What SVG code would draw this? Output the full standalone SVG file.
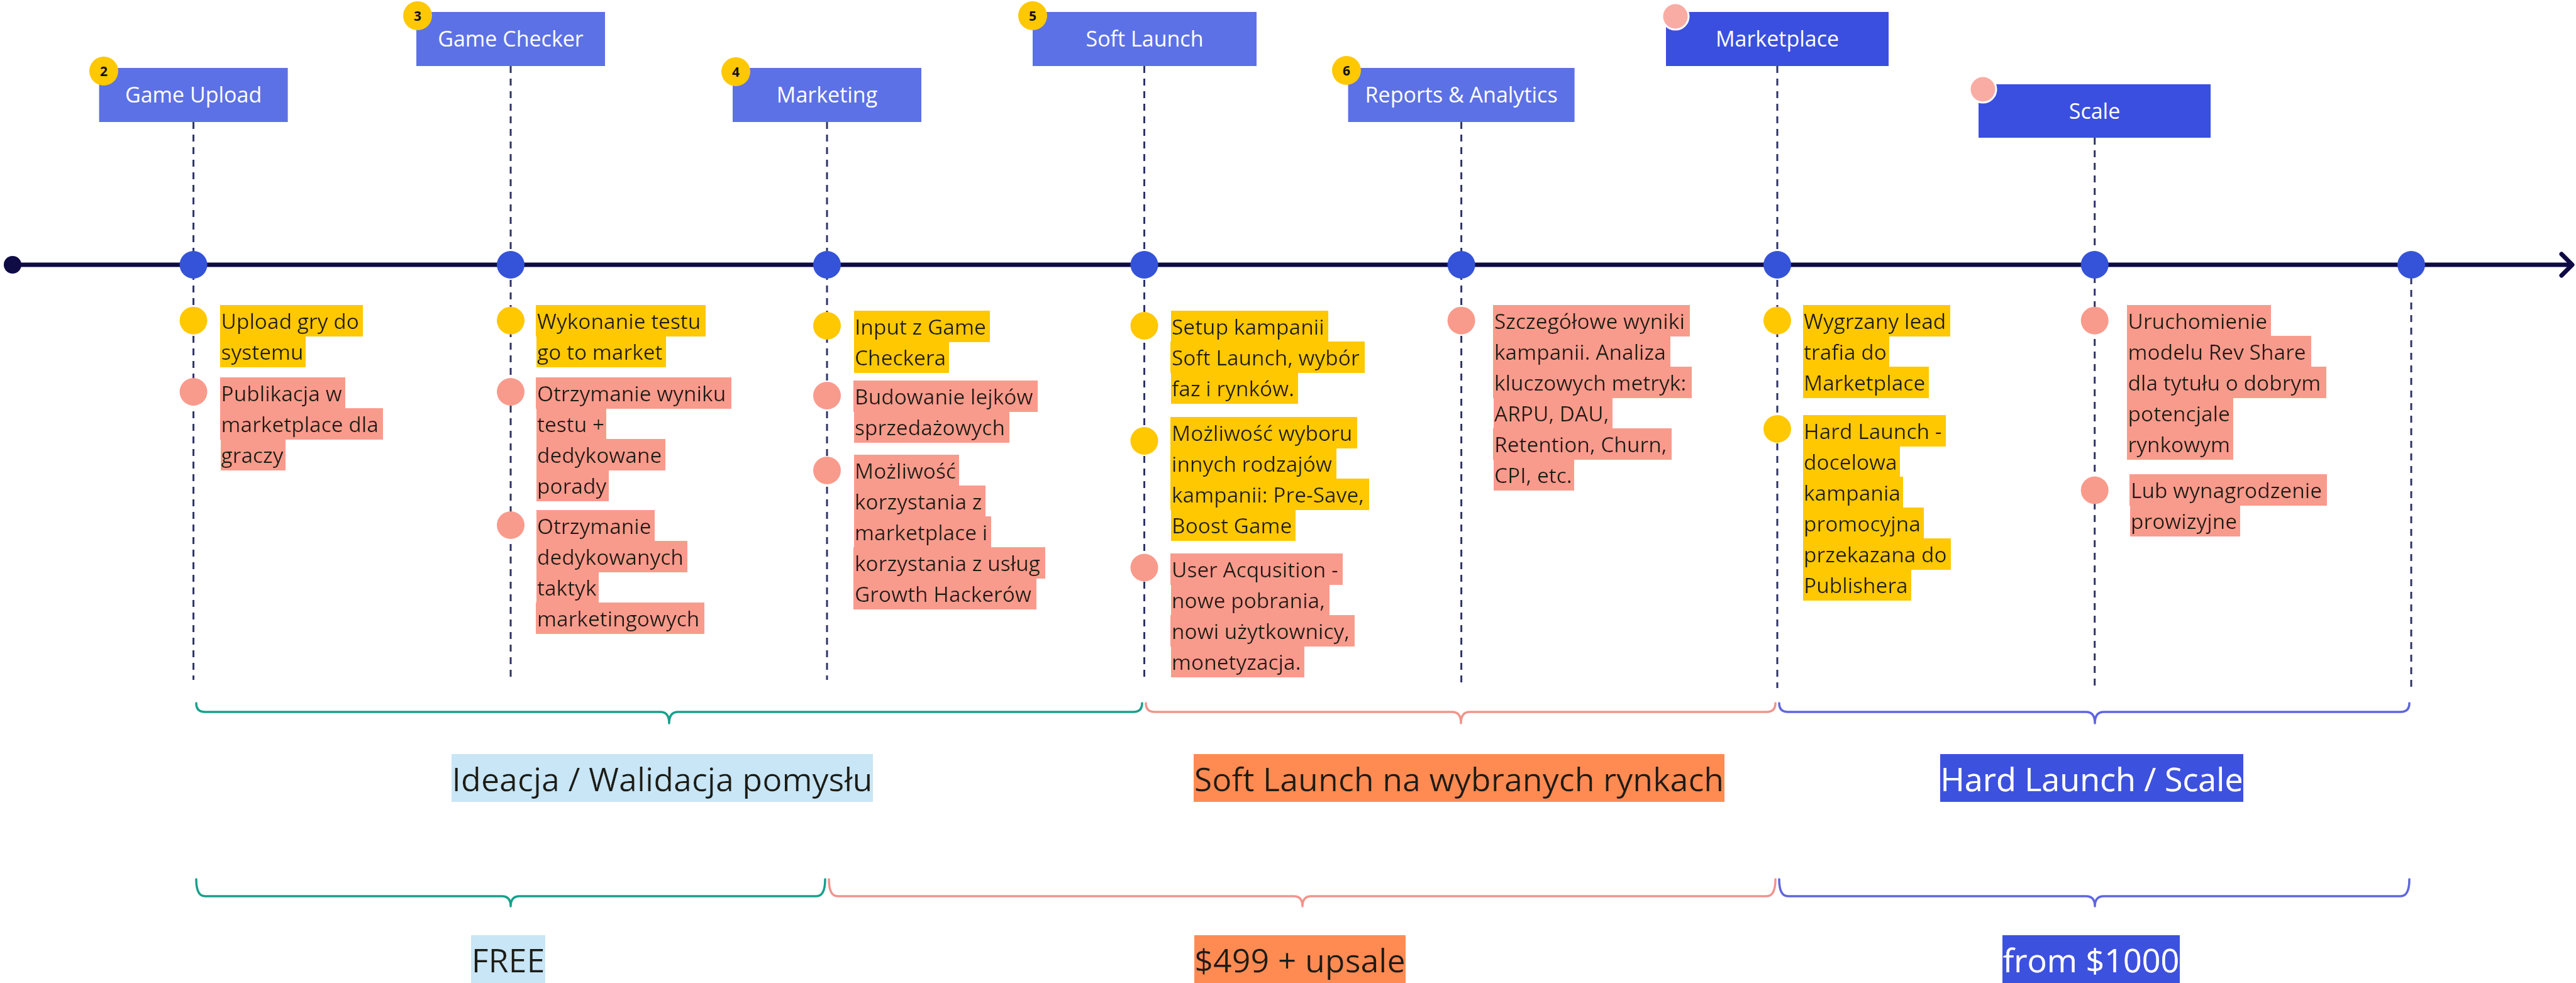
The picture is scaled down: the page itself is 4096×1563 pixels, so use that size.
<svg xmlns="http://www.w3.org/2000/svg" width="4096" height="1563" viewBox="0 0 4096 1563">
<defs>
<style>
text{font-family:"Open Sans","Noto Sans","Liberation Sans",sans-serif}
.bl{fill:#5C71E5}
.bd{fill:#3A4FDF}
.bt{fill:#ffffff;font-size:34px;text-anchor:middle}
.badge{fill:#FFC800}
.bn{fill:#111111;font-size:21px;font-weight:700;text-anchor:middle}
.pc{fill:#F9ACA3;stroke:#ffffff;stroke-width:3}
.dash{stroke:#2E3366;stroke-width:3;stroke-dasharray:11 9;fill:none}
.node{fill:#3553D8}
.dy{fill:#FFC800}
.dp{fill:#F99B8C}
.it{font-size:33.5px;fill:#1E1A18}
.ty{filter:url(#hy)}
.tp{filter:url(#hp)}
.lab{font-size:52px;text-anchor:middle;fill:#1E1A18}
.lw{fill:#ffffff}
.brace{fill:none;stroke-width:3.5;stroke-linecap:round;stroke-linejoin:round}
</style>
<filter id="hy" x="-0.004" y="-0.03" width="1.03" height="1.06"><feFlood flood-color="#FFC800"/><feComposite in="SourceGraphic"/></filter>
<filter id="hp" x="-0.004" y="-0.03" width="1.03" height="1.06"><feFlood flood-color="#F99B8C"/><feComposite in="SourceGraphic"/></filter>
<filter id="hlb" x="0" y="-0.03" width="1" height="1.06"><feFlood flood-color="#C8E6F5"/><feComposite in="SourceGraphic"/></filter>
<filter id="hor" x="0" y="-0.03" width="1" height="1.06"><feFlood flood-color="#FF8B52"/><feComposite in="SourceGraphic"/></filter>
<filter id="hbl" x="0" y="-0.03" width="1" height="1.06"><feFlood flood-color="#3C51DF"/><feComposite in="SourceGraphic"/></filter>
<marker id="arr" markerUnits="userSpaceOnUse" markerWidth="30" markerHeight="40" viewBox="0 0 30 40" refX="20" refY="17" orient="auto" overflow="visible"><path d="M3,0 L20,17 L3,34" fill="none" stroke="#0E0B45" stroke-width="7" stroke-linecap="round" stroke-linejoin="round"/></marker>
</defs>
<rect x="0" y="0" width="4096" height="1563" fill="#ffffff"/>

<g id="connectors">
<line x1="20" y1="421" x2="4090" y2="421" stroke="#0E0B45" stroke-width="7" marker-end="url(#arr)"/>
<circle cx="20" cy="421" r="14" fill="#0E0B45"/>
<line class="dash" x1="307.6" y1="194" x2="307.6" y2="1081"/>
<line class="dash" x1="812" y1="105" x2="812" y2="1081"/>
<line class="dash" x1="1315" y1="194" x2="1315" y2="1081"/>
<line class="dash" x1="1819.5" y1="105" x2="1819.5" y2="1081"/>
<line class="dash" x1="2323.6" y1="194" x2="2323.6" y2="1094"/>
<line class="dash" x1="2826" y1="105" x2="2826" y2="1094"/>
<line class="dash" x1="3330.7" y1="219" x2="3330.7" y2="1094"/>
<line class="dash" x1="3834" y1="421" x2="3834" y2="1094"/>
<path class="brace" stroke="#17A08C" d="M312,1118 Q312,1132 326,1132 H1050 Q1064,1132 1064,1150 Q1064,1132 1078,1132 H1802 Q1816,1132 1816,1118"/>
<path class="brace" stroke="#F0958C" d="M1822,1118 Q1822,1132 1836,1132 H2309 Q2323,1132 2323,1150 Q2323,1132 2337,1132 H2809 Q2823,1132 2823,1118"/>
<path class="brace" stroke="#5F66DE" d="M2829,1118 Q2829,1132 2843,1132 H3317 Q3331,1132 3331,1150 Q3331,1132 3345,1132 H3817 Q3831,1132 3831,1118"/>
<path class="brace" stroke="#17A08C" d="M312,1398 Q312,1425 326,1425 H798 Q812,1425 812,1441 Q812,1425 826,1425 H1298 Q1312,1425 1312,1398"/>
<path class="brace" stroke="#F0958C" d="M1318,1398 Q1318,1425 1332,1425 H2057 Q2071,1425 2071,1441 Q2071,1425 2085,1425 H2809 Q2823,1425 2823,1398"/>
<path class="brace" stroke="#5F66DE" d="M2829,1398 Q2829,1425 2843,1425 H3317 Q3331,1425 3331,1441 Q3331,1425 3345,1425 H3817 Q3831,1425 3831,1398"/>
</g>

<g id="n2-game-upload">
<rect class="bl" x="157.6" y="108" width="300" height="86"/>
<text class="bt" x="307.6" y="163">Game Upload</text>
<circle class="badge" cx="165" cy="113" r="23"/>
<text class="bn" x="165" y="120.5">2</text>
<circle class="node" cx="307.6" cy="421" r="22"/>
<circle class="dy" cx="307.6" cy="509.7" r="22"/>
<text class="it ty" x="351.5" y="522.7">Upload gry do</text>
<text class="it ty" x="351.5" y="571.7">systemu</text>
<circle class="dp" cx="307.6" cy="623" r="22"/>
<text class="it tp" x="351.5" y="637.7">Publikacja w</text>
<text class="it tp" x="351.5" y="686.7">marketplace dla</text>
<text class="it tp" x="351.5" y="735.7">graczy</text>
</g>

<g id="n3-game-checker">
<rect class="bl" x="662" y="19" width="300" height="86"/>
<text class="bt" x="812" y="74">Game Checker</text>
<circle class="badge" cx="664" cy="25" r="23"/>
<text class="bn" x="664" y="32.5">3</text>
<circle class="node" cx="812" cy="421" r="22"/>
<circle class="dy" cx="812" cy="509.7" r="22"/>
<text class="it ty" x="854" y="522.7">Wykonanie testu</text>
<text class="it ty" x="854" y="571.7">go to market</text>
<circle class="dp" cx="812" cy="623" r="22"/>
<text class="it tp" x="854" y="637.7">Otrzymanie wyniku</text>
<text class="it tp" x="854" y="686.7">testu +</text>
<text class="it tp" x="854" y="735.7">dedykowane</text>
<text class="it tp" x="854" y="784.7">porady</text>
<circle class="dp" cx="812" cy="835" r="22"/>
<text class="it tp" x="854" y="848.7">Otrzymanie</text>
<text class="it tp" x="854" y="897.7">dedykowanych</text>
<text class="it tp" x="854" y="946.7">taktyk</text>
<text class="it tp" x="854" y="995.7">marketingowych</text>
</g>

<g id="n4-marketing">
<rect class="bl" x="1165" y="108" width="300" height="86"/>
<text class="bt" x="1315" y="163">Marketing</text>
<circle class="badge" cx="1170" cy="114" r="23"/>
<text class="bn" x="1170" y="121.5">4</text>
<circle class="node" cx="1315" cy="421" r="22"/>
<circle class="dy" cx="1315" cy="518" r="22"/>
<text class="it ty" x="1359" y="531.7">Input z Game</text>
<text class="it ty" x="1359" y="580.7">Checkera</text>
<circle class="dp" cx="1315" cy="629" r="22"/>
<text class="it tp" x="1359" y="643.2">Budowanie lejków</text>
<text class="it tp" x="1359" y="692.2">sprzedażowych</text>
<circle class="dp" cx="1315" cy="748" r="22"/>
<text class="it tp" x="1359" y="761">Możliwość</text>
<text class="it tp" x="1359" y="810">korzystania z</text>
<text class="it tp" x="1359" y="859">marketplace i</text>
<text class="it tp" x="1359" y="908">korzystania z usług</text>
<text class="it tp" x="1359" y="957">Growth Hackerów</text>
</g>

<g id="n5-soft-launch">
<rect class="bl" x="1642" y="19" width="356" height="86"/>
<text class="bt" x="1820" y="74">Soft Launch</text>
<circle class="badge" cx="1642" cy="25" r="23"/>
<text class="bn" x="1642" y="32.5">5</text>
<circle class="node" cx="1819.5" cy="421" r="22"/>
<circle class="dy" cx="1819.5" cy="518" r="22"/>
<text class="it ty" x="1863" y="531.7">Setup kampanii</text>
<text class="it ty" x="1863" y="580.7">Soft Launch, wybór</text>
<text class="it ty" x="1863" y="629.7">faz i rynków.</text>
<circle class="dy" cx="1819.5" cy="701" r="22"/>
<text class="it ty" x="1863" y="700.7">Możliwość wyboru</text>
<text class="it ty" x="1863" y="749.7">innych rodzajów</text>
<text class="it ty" x="1863" y="798.7">kampanii: Pre-Save,</text>
<text class="it ty" x="1863" y="847.7">Boost Game</text>
<circle class="dp" cx="1819.5" cy="902.5" r="22"/>
<text class="it tp" x="1863" y="918.2">User Acqusition -</text>
<text class="it tp" x="1863" y="967.2">nowe pobrania,</text>
<text class="it tp" x="1863" y="1016.2">nowi użytkownicy,</text>
<text class="it tp" x="1863" y="1065.2">monetyzacja.</text>
</g>

<g id="n6-reports-analytics">
<rect class="bl" x="2143.6" y="108" width="360" height="86"/>
<text class="bt" x="2323.6" y="163">Reports &amp; Analytics</text>
<circle class="badge" cx="2141" cy="112" r="23"/>
<text class="bn" x="2141" y="119.5">6</text>
<circle class="node" cx="2323.6" cy="421" r="22"/>
<circle class="dp" cx="2323.6" cy="509.7" r="22"/>
<text class="it tp" x="2376" y="522.7">Szczegółowe wyniki</text>
<text class="it tp" x="2376" y="571.7">kampanii. Analiza</text>
<text class="it tp" x="2376" y="620.7">kluczowych metryk:</text>
<text class="it tp" x="2376" y="669.7">ARPU, DAU,</text>
<text class="it tp" x="2376" y="718.7">Retention, Churn,</text>
<text class="it tp" x="2376" y="767.7">CPI, etc.</text>
</g>

<g id="n7-marketplace">
<rect class="bd" x="2649" y="19" width="354" height="86"/>
<text class="bt" x="2826" y="74">Marketplace</text>
<circle class="pc" cx="2664" cy="26" r="21"/>
<circle class="node" cx="2826" cy="421" r="22"/>
<circle class="dy" cx="2826" cy="509.7" r="22"/>
<text class="it ty" x="2868" y="522.7">Wygrzany lead</text>
<text class="it ty" x="2868" y="571.7">trafia do</text>
<text class="it ty" x="2868" y="620.7">Marketplace</text>
<circle class="dy" cx="2826" cy="682" r="22"/>
<text class="it ty" x="2868" y="697.7">Hard Launch -</text>
<text class="it ty" x="2868" y="746.7">docelowa</text>
<text class="it ty" x="2868" y="795.7">kampania</text>
<text class="it ty" x="2868" y="844.7">promocyjna</text>
<text class="it ty" x="2868" y="893.7">przekazana do</text>
<text class="it ty" x="2868" y="942.7">Publishera</text>
</g>

<g id="n8-scale">
<rect class="bd" x="3146" y="134" width="369" height="85"/>
<text class="bt" x="3330.5" y="188.5">Scale</text>
<circle class="pc" cx="3153" cy="142" r="21"/>
<circle class="node" cx="3330.7" cy="421" r="22"/>
<circle class="dp" cx="3330.7" cy="509.7" r="22"/>
<text class="it tp" x="3383.5" y="522.7">Uruchomienie</text>
<text class="it tp" x="3383.5" y="571.7">modelu Rev Share</text>
<text class="it tp" x="3383.5" y="620.7">dla tytułu o dobrym</text>
<text class="it tp" x="3383.5" y="669.7">potencjale</text>
<text class="it tp" x="3383.5" y="718.7">rynkowym</text>
<circle class="dp" cx="3330.7" cy="779.5" r="22"/>
<text class="it tp" x="3388" y="791.7">Lub wynagrodzenie</text>
<text class="it tp" x="3388" y="840.7">prowizyjne</text>
</g>

<g id="n9-end">
<circle class="node" cx="3834" cy="421" r="22"/>
</g>

<g id="phase-labels">
<text class="lab" x="1053" y="1257.7" filter="url(#hlb)">Ideacja / Walidacja pomysłu</text>
<text class="lab" x="2320" y="1257.7" filter="url(#hor)">Soft Launch na wybranych rynkach</text>
<text class="lab lw" x="3326" y="1257.7" filter="url(#hbl)">Hard Launch / Scale</text>
</g>

<g id="price-labels">
<text class="lab" x="808" y="1545.7" filter="url(#hlb)">FREE</text>
<text class="lab" x="2067" y="1545.7" filter="url(#hor)">$499 + upsale</text>
<text class="lab lw" x="3325" y="1545.7" filter="url(#hbl)">from $1000</text>
</g>
</svg>
